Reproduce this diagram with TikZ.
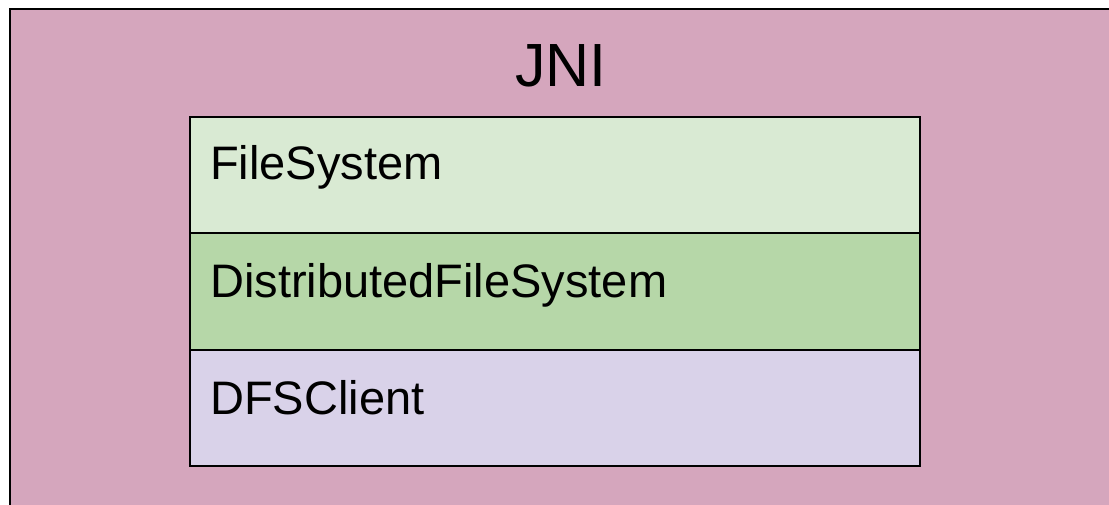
\documentclass[tikz,border=0pt]{standalone}
\usepackage{fontspec}
\setmainfont{Liberation Sans}
\definecolor{outerpink}{HTML}{D5A6BD}
\definecolor{lightgreen}{HTML}{D9EAD3}
\definecolor{midgreen}{HTML}{B6D7A8}
\definecolor{lightpurple}{HTML}{D9D2E9}
\tikzset{
  layerbox/.style={draw=black, line width=1.6pt},
  layertext/.style={anchor=base west, inner sep=0pt, font=\fontsize{47}{56}\selectfont},
  titletext/.style={anchor=base, inner sep=0pt, font=\fontsize{61}{72}\selectfont}
}
\begin{document}
\begin{tikzpicture}[x=1pt,y=-1pt]
\useasboundingbox (0,0) rectangle (1109,505);
\clip (0,0) rectangle (1109,505);
\fill[white] (0,0) rectangle (1109,505);
\draw[line width=2pt, fill=outerpink] (10,9) rectangle (1125,525);
\node[titletext] (jni) at (561,87) {JNI};
\draw[layerbox, fill=lightgreen] (190,117) rectangle (920,233);
\draw[layerbox, fill=midgreen] (190,233) rectangle (920,350);
\draw[layerbox, fill=lightpurple] (190,350) rectangle (920,466);
\node[layertext] (fs) at (210,180) {FileSystem};
\node[layertext] (dfs) at (210,298) {DistributedFileSystem};
\node[layertext] (client) at (210,414) {DFSClient};
\end{tikzpicture}
\end{document}
